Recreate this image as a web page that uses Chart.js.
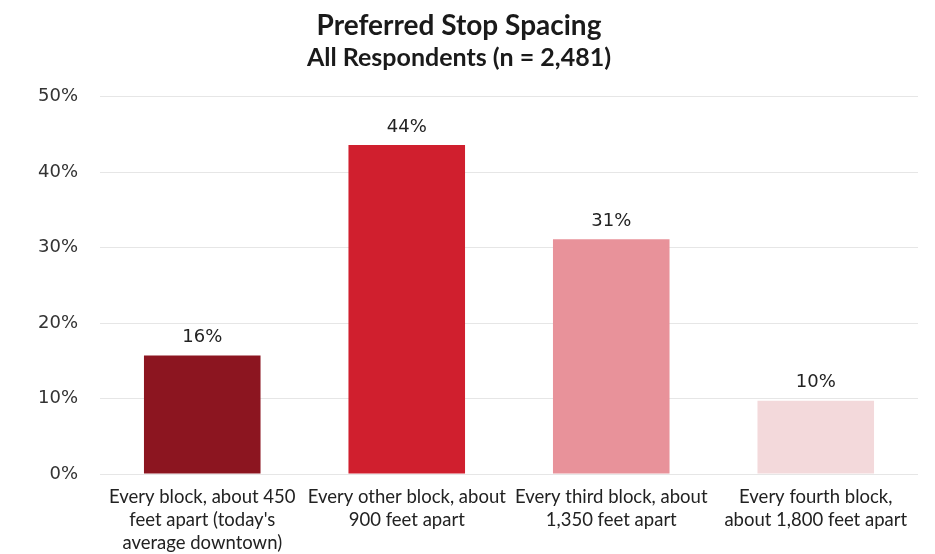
<!DOCTYPE html>
<html>
<head>
<meta charset="utf-8">
<script src="https://cdn.jsdelivr.net/npm/chart.js@4.4.1/dist/chart.umd.min.js"></script>
<style>
  html, body { margin: 0; padding: 0; background: #fff; }
  #wrap { width: 935px; height: 554px; }
</style>
</head>
<body>
<div id="wrap"><canvas id="stopChart"></canvas></div>
<script>
const categories = [
    ['Every block, about 450', 'feet apart (today\'s', 'average downtown)'],
    ['Every other block, about', '900 feet apart'],
    ['Every third block, about', '1,350 feet apart'],
    ['Every fourth block,', 'about 1,800 feet apart']
];
const shares = [15.7, 43.6, 31.1, 9.7];
const barColors = ['#8c1520', '#d01f2e', '#e8929a', '#f3d9db'];
const yTicks = [0, 10, 20, 30, 40, 50];

// value labels over each bar
const barLabels = {
    id: 'barLabels',
    afterDatasetsDraw(chart) {
        const ctx = chart.ctx;
        const meta = chart.getDatasetMeta(0);
        ctx.save();
        ctx.font = '18px "DejaVu Sans", sans-serif';
        ctx.fillStyle = '#222';
        ctx.textAlign = 'center';
        ctx.textBaseline = 'bottom';
        meta.data.forEach((bar, i) => {
            ctx.fillText(Math.round(shares[i]) + '%', bar.x, bar.y - 9);
        });
        ctx.restore();
    }
};

new Chart(document.getElementById('stopChart'), {
    type: 'bar',
    data: {
        labels: categories,
        datasets: [{
            data: shares,
            backgroundColor: barColors,
            borderWidth: 0,
            barPercentage: 0.57,
            categoryPercentage: 1
        }]
    },
    options: {
        responsive: true,
        maintainAspectRatio: false,
        animation: false,
        layout: { padding: { left: 0, right: 17, top: 0, bottom: 0 } },
        plugins: {
            legend: { display: false },
            tooltip: { enabled: false },
            title: {
                display: true,
                text: 'Preferred Stop Spacing',
                color: '#1a1a1a',
                font: { family: 'Lato', size: 28, weight: 'bold' },
                padding: { top: 9, bottom: 0 }
            },
            subtitle: {
                display: true,
                text: 'All Respondents (n = 2,481)',
                color: '#1a1a1a',
                font: { family: 'Lato', size: 25, weight: 'bold' },
                padding: { top: 0, bottom: 24 }
            }
        },
        scales: {
            x: {
                afterFit(scale) {
                    scale.height = 80;
                },
                grid: { display: false },
                border: { display: false },
                ticks: {
                    color: '#222',
                    font: { family: 'Lato', size: 18.5, lineHeight: 1.25 },
                    maxRotation: 0,
                    autoSkip: false,
                    padding: 3.5
                }
            },
            y: {
                min: 0,
                max: 50,
                afterBuildTicks(scale) {
                    scale.ticks = yTicks.map(v => ({ value: v }));
                },
                afterFit(scale) {
                    scale.width = 100;
                },
                grid: { color: '#e6e6e6', drawTicks: false },
                border: { display: false },
                ticks: {
                    color: '#333',
                    font: { family: 'DejaVu Sans', size: 18 },
                    padding: 22,
                    callback: v => v + '%'
                }
            }
        }
    },
    plugins: [barLabels]
});
</script>
</body>
</html>
